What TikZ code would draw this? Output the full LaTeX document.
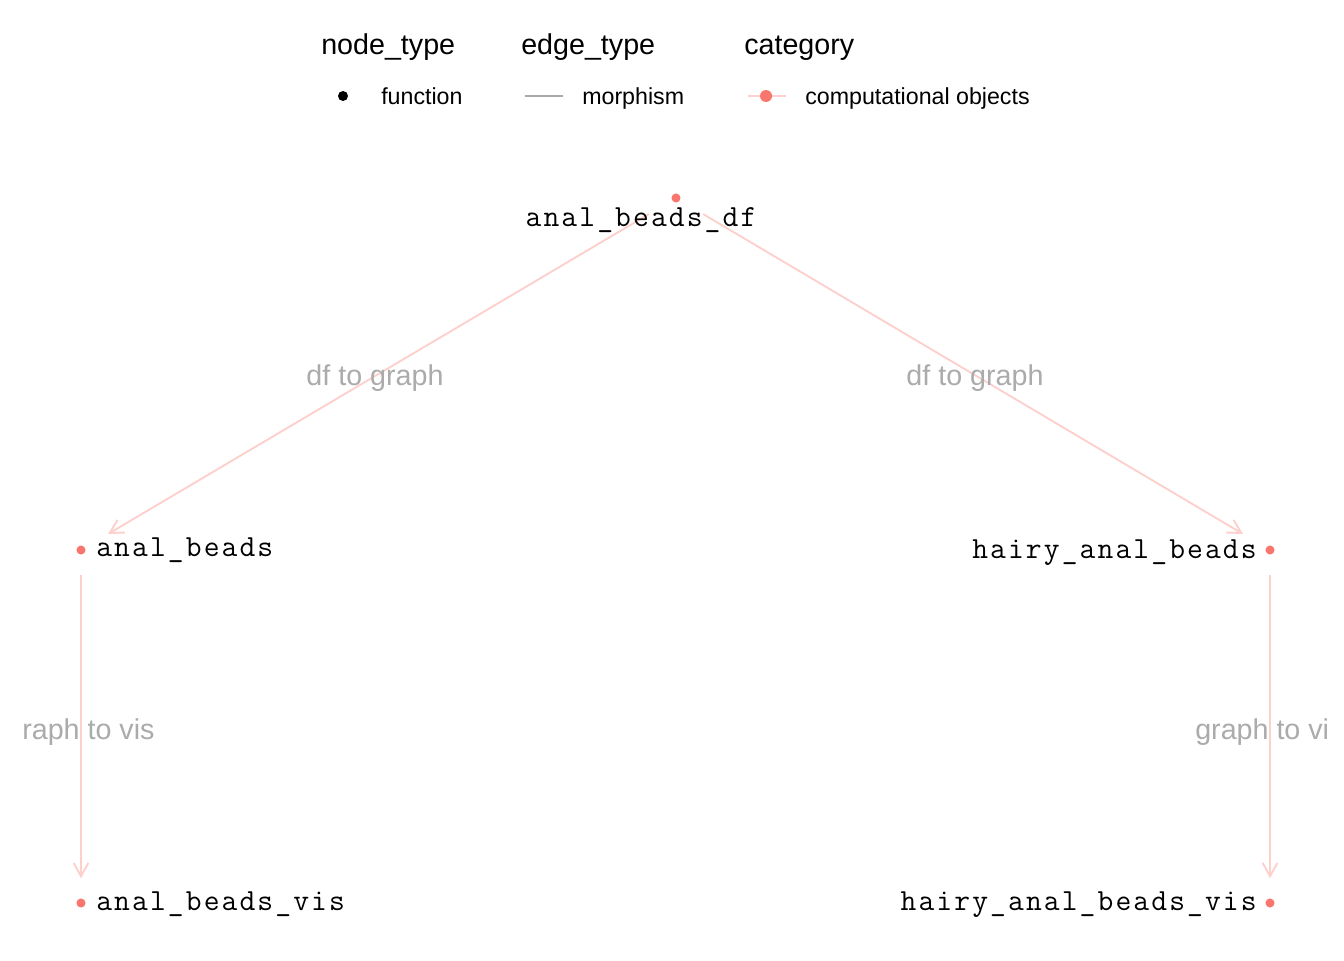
\documentclass[tikz,border=0pt]{standalone}
\usepackage{fontspec}
\setmainfont{Liberation Sans}
\usetikzlibrary{arrows.meta}
\definecolor{objred}{HTML}{F8766D}
\definecolor{edgepink}{HTML}{FDD0CC}
\definecolor{lblgray}{HTML}{ABABAB}
\definecolor{keygray}{HTML}{AAAAAA}
\def\cdloop#1{\ifx\relax#1\else\hbox to 13.43pt{\hss#1\hss}\expandafter\cdloop\fi}
\newcommand{\cdtext}[1]{\cdloop#1\relax}
\tikzset{
  objdot/.style={circle, fill=objred, draw=none, inner sep=0pt, minimum size=6.8pt},
  codelbl/.style={inner sep=0pt, font=\fontsize{23}{26}\selectfont\ttfamily, text=black},
  edgeline/.style={draw=edgepink, line width=1.4pt, -{Straight Barb[length=10pt,width=11pt,line width=1.4pt]}},
  diagedge/.style={edgeline, shorten <=20pt, shorten >=20pt},
  vertedge/.style={edgeline, shorten <=15pt, shorten >=15pt},
  edgelbl/.style={inner sep=0pt, text=lblgray, font=\fontsize{21.5}{24}\selectfont},
  legtitle/.style={inner sep=0pt, anchor=base west, font=\fontsize{21.5}{24}\selectfont},
  legtext/.style={inner sep=0pt, anchor=base west, font=\fontsize{17.4}{20}\selectfont},
}
\begin{document}
\begin{tikzpicture}[x=0.75pt,y=-0.75pt]
\useasboundingbox[fill=white] (0,0) rectangle (1344,960);

% legend
\node[legtitle] (t1) at (321,54) {node\_type};
\node[legtitle] (t2) at (521,54) {edge\_type};
\node[legtitle] (t3) at (744,54) {category};
\node[circle, fill=black, inner sep=0pt, minimum size=7.5pt] (k1) at (343,96) {};
\node[legtext] (g1) at (381,104) {function};
\coordinate (k2a) at (525,96);
\coordinate (k2b) at (563,96);
\draw[keygray, line width=1.5pt] (k2a) -- (k2b);
\node[legtext] (g2) at (582,104) {morphism};
\coordinate (k3a) at (748,96);
\coordinate (k3b) at (786,96);
\draw[edgepink, line width=1.5pt] (k3a) -- (k3b);
\node[objdot, minimum size=9pt] (k3) at (766,96) {};
\node[legtext] (g3) at (805,104) {computational objects};

% nodes
\node[objdot] (n1) at (676,198) {};
\node[objdot] (n2) at (81,550) {};
\node[objdot] (n3) at (1270,550) {};
\node[objdot] (n4) at (81,903) {};
\node[objdot] (n5) at (1270,903) {};

% edges
\draw[diagedge] (n1) -- (n2);
\draw[diagedge] (n1) -- (n3);
\draw[vertedge] (n2) -- (n4);
\draw[vertedge] (n3) -- (n5);

% edge labels
\node[edgelbl, anchor=base] (e1) at (375,385) {df to graph};
\node[edgelbl, anchor=base] (e2) at (975,385) {df to graph};
\node[edgelbl, anchor=base west] (e3) at (22,739) {raph to vis};
\node[edgelbl, anchor=base west] (e4) at (1195,739) {graph to vi};

% node labels
\node[codelbl, anchor=mid] (l1) at (641,223) {\cdtext{anal\_beads\_df}};
\node[codelbl, anchor=mid west] (l2) at (95,553) {\cdtext{anal\_beads}};
\node[codelbl, anchor=mid east] (l3) at (1258,555) {\cdtext{hairy\_anal\_beads}};
\node[codelbl, anchor=mid west] (l4) at (95,907) {\cdtext{anal\_beads\_vis}};
\node[codelbl, anchor=mid east] (l5) at (1258,907) {\cdtext{hairy\_anal\_beads\_vis}};
\end{tikzpicture}
\end{document}
